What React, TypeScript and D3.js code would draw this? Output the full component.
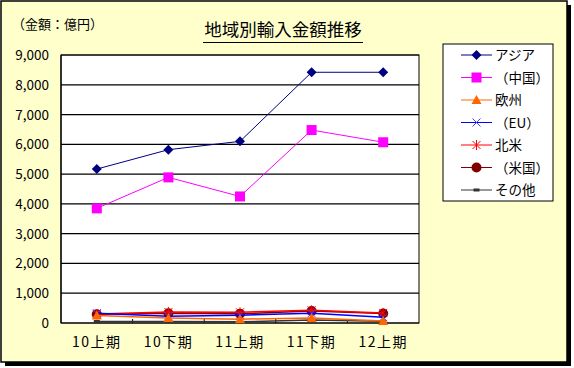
import React from "react";
import * as d3 from "d3";

const periods = ["10上期", "10下期", "11上期", "11下期", "12上期"];
const asia = [5170, 5820, 6100, 8420, 8420];
const china = [3850, 4890, 4250, 6480, 6070];
const europe = [250, 170, 130, 170, 70];
const eu = [330, 230, 260, 330, 190];
const northAmerica = [300, 370, 360, 430, 340];
const usa = [290, 330, 310, 400, 320];
const others = [50, 50, 40, 100, 60];
const yTicks = [0, 1000, 2000, 3000, 4000, 5000, 6000, 7000, 8000, 9000];

const series = [
  { name: "アジア", values: asia, color: "#000080", marker: "diamond", width: 1 },
  { name: "（中国）", values: china, color: "#FF00FF", marker: "square", width: 1 },
  { name: "欧州", values: europe, color: "#FF6600", marker: "triangle", width: 1.5 },
  { name: "（EU）", values: eu, color: "#0000FF", marker: "x", width: 1.5 },
  { name: "北米", values: northAmerica, color: "#FF0000", marker: "star", width: 1.5 },
  { name: "（米国）", values: usa, color: "#800000", marker: "circle", width: 1.5 },
  { name: "その他", values: others, color: "#333333", marker: "dash", width: 1.5 },
];

const font = "'Noto Sans CJK JP', 'Noto Sans', sans-serif";

const Marker = ({ type, x, y, color }: { type: string; x: number; y: number; color: string }) => {
  if (type === "diamond") {
    return <path d={`M${x},${y - 5}L${x + 5},${y}L${x},${y + 5}L${x - 5},${y}Z`} fill={color} />;
  }
  if (type === "square") {
    return <rect x={x - 5} y={y - 5} width={10} height={10} fill={color} />;
  }
  if (type === "triangle") {
    return <path d={`M${x},${y - 5}L${x + 5},${y + 4}L${x - 5},${y + 4}Z`} fill={color} />;
  }
  if (type === "x") {
    return <path d={`M${x - 4},${y - 4}L${x + 4},${y + 4}M${x + 4},${y - 4}L${x - 4},${y + 4}`} stroke="#4040FF" strokeWidth={1} />;
  }
  if (type === "star") {
    return (
      <path
        d={`M${x - 4},${y - 4}L${x + 4},${y + 4}M${x + 4},${y - 4}L${x - 4},${y + 4}M${x},${y - 5}L${x},${y + 5}`}
        stroke={color}
        strokeWidth={1}
      />
    );
  }
  if (type === "circle") {
    return <circle cx={x} cy={y} r={5} fill={color} />;
  }
  return <rect x={x - 3} y={y - 1.5} width={6} height={3} fill={color} />;
};

export default function App() {
  const left = 61;
  const right = 419;
  const top = 55;
  const bottom = 323;

  const x = d3.scaleBand<string>().domain(periods).range([left, right]);
  const y = d3.scaleLinear().domain([0, 9000]).range([bottom, top]);
  const cx = (p: string) => (x(p) as number) + x.bandwidth() / 2;

  const line = d3
    .line<number>()
    .x((_, i) => cx(periods[i]))
    .y((d) => y(d));

  // draw the small series first so the big ones sit on top
  const drawOrder = [...series].reverse();

  return (
    <svg
      width={574}
      height={368}
      style={{ position: "absolute", left: 0, top: 0, fontFamily: font }}
    >
      <rect x={5} y={5} width={566} height={361} fill="#000" />
      <rect x={1} y={1} width={566} height={361} fill="#FFFFCC" stroke="#000" strokeWidth={1.5} />

      <text x={12} y={29} fontSize={13} fill="#000">（金額：億円）</text>
      <text x={283} y={36} fontSize={17.5} textAnchor="middle" fill="#000">地域別輸入金額推移</text>
      <line x1={203} x2={363} y1={42.5} y2={42.5} stroke="#000" strokeWidth={1} />

      <rect x={left} y={top} width={right - left} height={bottom - top} fill="#fff" stroke="#000" strokeWidth={1} />
      {yTicks.map((t) => (
        <g key={t}>
          <line x1={left} x2={right} y1={y(t)} y2={y(t)} stroke="#000" strokeWidth={1.2} />
          <text x={49} y={y(t) + 5} fontSize={13.5} textAnchor="end" fill="#000">
            {d3.format(",")(t)}
          </text>
        </g>
      ))}
      <line x1={left} x2={left} y1={top} y2={bottom} stroke="#000" strokeWidth={1.2} />
      {periods.slice(1).map((p) => (
        <line key={p} x1={x(p)} x2={x(p)} y1={bottom} y2={bottom - 4} stroke="#000" strokeWidth={1} />
      ))}
      {periods.map((p) => (
        <text key={p} x={cx(p)} y={347} fontSize={14} letterSpacing={1.5} textAnchor="middle" fill="#000">
          {p}
        </text>
      ))}

      {drawOrder.map((s) => (
        <g key={s.name}>
          <path d={line(s.values) ?? ""} fill="none" stroke={s.color} strokeWidth={s.width} />
          {s.values.map((v, i) => (
            <Marker key={i} type={s.marker} x={cx(periods[i])} y={y(v)} color={s.color} />
          ))}
        </g>
      ))}

      <rect x={443} y={44} width={110} height={157} fill="#fff" stroke="#000" strokeWidth={1} />
      {series.map((s, i) => {
        const ly = 55 + i * 22.5;
        return (
          <g key={s.name}>
            <line x1={461} x2={492} y1={ly} y2={ly} stroke={s.color} strokeWidth={1} />
            <Marker type={s.marker} x={476.5} y={ly} color={s.color} />
            <text x={495} y={ly + 5} fontSize={13.5} fill="#000">
              {s.name}
            </text>
          </g>
        );
      })}
    </svg>
  );
}
